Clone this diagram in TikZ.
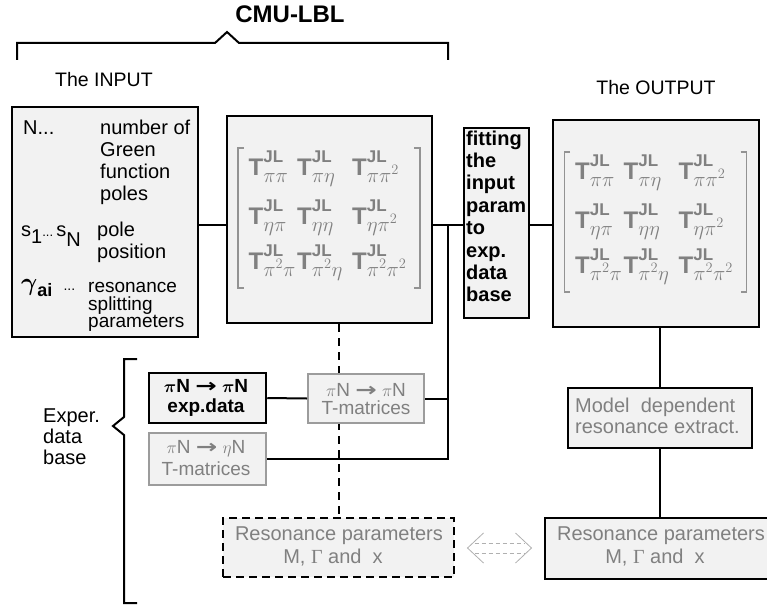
\documentclass[tikz,border=0pt]{standalone}
\usepackage{fontspec}
\usetikzlibrary{calc}
\setmainfont{Liberation Sans}
\newfontfamily\dejavu{DejaVu Sans}
\newfontfamily\grserif{Liberation Serif}
\definecolor{boxfill}{HTML}{F2F2F2}
\definecolor{txtgray}{HTML}{808080}
\definecolor{bordergray}{HTML}{9C9C9C}
\definecolor{arrgray}{HTML}{B0B0B0}
\newcommand{\Tent}[1]{T\makebox[0pt][l]{\raisebox{12.5pt}{\fontsize{17}{17}\selectfont JL}}\raisebox{-7pt}{\fontsize{20}{20}\selectfont\mdseries$#1$}}
\newcommand{\myarrow}{\scalebox{1.35}[1]{\dejavu\bfseries →}}
\tikzset{
  box/.style={draw=black, line width=2pt, fill=boxfill, inner sep=0pt},
  gbox/.style={draw=bordergray, line width=2pt, fill=boxfill, inner sep=0pt},
  dbox/.style={draw=black, line width=2pt, dash pattern=on 8pt off 5pt, fill=boxfill, inner sep=0pt},
  conn/.style={draw=black, line width=2pt},
  dconn/.style={draw=black, line width=2pt, dash pattern=on 8pt off 6pt},
  brk/.style={draw=txtgray!85, line width=1.6pt},
  ment/.style={inner sep=0pt, anchor=base west, text=txtgray, font=\fontsize{24}{26}\selectfont\bfseries},
  intxt/.style={inner sep=0pt, anchor=base west, font=\fontsize{20}{24}\selectfont},
  fittxt/.style={inner sep=0pt, anchor=base west, font=\fontsize{20}{24}\selectfont\bfseries},
  gtxt/.style={inner sep=0pt, anchor=base, text=txtgray, font=\fontsize{20}{24}\selectfont},
  gtxtl/.style={inner sep=0pt, anchor=base west, text=txtgray, font=\fontsize{20}{24}\selectfont},
  gstxt/.style={inner sep=0pt, anchor=base, text=txtgray, font=\fontsize{19}{23}\selectfont},
  btxt/.style={inner sep=0pt, anchor=base, font=\fontsize{19}{23}\selectfont\bfseries\boldmath},
  dblarr/.style={draw=arrgray, line width=0.8pt},
}
\newcommand{\Tmat}[1]{%
  \begin{scope}[shift={(#1.center)}]
    \draw[brk] (-86,-71.5) -- (-91.5,-71.5) -- (-91.5,68.5) -- (-86,68.5);
    \draw[brk] (84.5,-71.5) -- (90.5,-71.5) -- (90.5,68.5) -- (84.5,68.5);
    \node[ment] (#1-11) at (-81,-44.5) {\Tent{\pi\pi}};
    \node[ment] (#1-12) at (-32.5,-44.5) {\Tent{\pi\eta}};
    \node[ment] (#1-13) at (22.5,-44.5) {\Tent{\pi\pi^2}};
    \node[ment] (#1-21) at (-81,4.5) {\Tent{\eta\pi}};
    \node[ment] (#1-22) at (-32.5,4.5) {\Tent{\eta\eta}};
    \node[ment] (#1-23) at (22.5,4.5) {\Tent{\eta\pi^2}};
    \node[ment] (#1-31) at (-81,49.5) {\Tent{\pi^2\pi}};
    \node[ment] (#1-32) at (-32.5,49.5) {\Tent{\pi^2\eta}};
    \node[ment] (#1-33) at (22.5,49.5) {\Tent{\pi^2\pi^2}};
  \end{scope}}
\begin{document}
\begin{tikzpicture}[x=1pt,y=-1pt]
\useasboundingbox (0,0) rectangle (767,607);
\coordinate (row) at (0,225);
% CMU-LBL brace
\node[inner sep=0pt, anchor=base, font=\fontsize{24}{28}\selectfont\bfseries] (cmu) at (290,23) {CMU-LBL};
\draw[conn] (17,60) -- (17,43) -- (215,43) -- (227,32) -- (239,43) -- (448,43) -- (448,60);
\node[intxt, font=\fontsize{19.5}{24}\selectfont] (tin) at (55,87) {The INPUT};
\node[inner sep=0pt, anchor=base, font=\fontsize{19.5}{24}\selectfont] (tout) at (656,95) {The OUTPUT};
% boxes
\node[box, minimum width=186pt, minimum height=230pt] (inbox) at (105,222) {};
\node[box, minimum width=205pt, minimum height=207pt] (mat1) at (329.5,219.5) {};
\node[box, minimum width=65pt, minimum height=190pt] (fit) at (496.5,223) {};
\node[box, minimum width=206pt, minimum height=207pt] (mat2) at (656,223.5) {};
\node[box, minimum width=184pt, minimum height=60pt] (model) at (660,418) {};
\node[box, minimum width=231pt, minimum height=61pt] (resR) at (660.5,548.5) {};
\node[dbox, minimum width=231pt, minimum height=59pt] (resD) at (338.5,547.5) {};
\node[box, line width=2.5pt, minimum width=117pt, minimum height=50pt] (exp) at (207.5,398) {};
\node[gbox, minimum width=117pt, minimum height=52pt] (tpe) at (207.5,459) {};
% dashed line behind the T-matrices box
\draw[dconn] (resD.north |- mat1.south) -- (resD.north);
\node[gbox, minimum width=116pt, minimum height=49pt] (tpp) at (366,398.5) {};
% connectors
\coordinate (J) at (448,225);
\draw[conn] (inbox.east |- row) -- (mat1.west |- row);
\draw[conn] (mat1.east |- row) -- (fit.west |- row);
\draw[conn] (fit.east |- row) -- (mat2.west |- row);
\draw[conn] (J) -- (J |- tpe.east) -- (tpe.east);
\draw[conn] (tpp.east) -- (tpp.east -| J);
\draw[conn] (exp.east) -- (tpp.west);
\draw[conn] (model.north |- mat2.south) -- (model.north);
\draw[conn] (model.south) -- (model.south |- resR.north);
% Exper. data base bracket
\draw[conn] (137,359) -- (124,359) -- (124,417) -- (113,426) -- (124,435) -- (124,603) -- (137,603);
\node[intxt] (ex1) at (43,422) {Exper.};
\node[intxt] (ex2) at (43,443) {data};
\node[intxt] (ex3) at (43,464) {base};
% input box text
\node[intxt] (in1) at (23,134) {N...};
\node[intxt] (in2) at (100,134) {number of};
\node[intxt] (in3) at (100,156) {Green};
\node[intxt] (in4) at (100,178) {function};
\node[intxt] (in5) at (100,200) {poles};
\node[intxt] (in6) at (21,236) {s\raisebox{-7pt}{1}{\fontsize{13}{14}\selectfont...}\,s\raisebox{-10pt}{N}};
\node[intxt] (in7) at (97,236) {pole};
\node[intxt] (in8) at (97,258) {position};
\node[intxt] (in9) at (21,290) {{\fontsize{25}{26}\selectfont\boldmath$\gamma$}\raisebox{-6pt}{\fontsize{18}{20}\selectfont\bfseries ai}\ \ {\fontsize{14}{14}\selectfont...}};
\node[intxt, font=\fontsize{19}{22}\selectfont] (in10) at (88,292) {resonance};
\node[intxt, font=\fontsize{19}{22}\selectfont] (in11) at (88,310) {splitting};
\node[intxt, font=\fontsize{19}{22}\selectfont] (in12) at (88,327) {parameters};
% matrices
\Tmat{mat1}
\Tmat{mat2}
% fitting text
\foreach \t [count=\i from 0] in {fitting,the,input,param,to,exp.,data,base}
  \node[fittxt] (fit-\i) at (466,{145+22.4*\i}) {\t};
% small boxes text
\node[btxt] (exp1) at (206,392) {$\pi$N \myarrow\ $\pi$N};
\node[btxt] (exp2) at (206,412) {exp.data};
\node[gstxt] (tpp1) at (366,396) {$\pi$N \myarrow\ $\pi$N};
\node[gstxt] (tpp2) at (366,414) {T-matrices};
\node[gstxt] (tpe1) at (206,453) {$\pi$N \myarrow\ $\eta$N};
\node[gstxt] (tpe2) at (206,475) {T-matrices};
% model text
\node[gtxtl] (mo1) at (575,412) {Model\ \ dependent};
\node[gtxtl] (mo2) at (575,433) {resonance extract.};
% resonance texts
\node[gtxt] (rd1) at (339,540) {Resonance parameters};
\node[gtxt] (rd2) at (333,563) {M, {\grserif Γ} and\ \ x};
\node[gtxt] (rr1) at (661,540) {Resonance parameters};
\node[gtxt] (rr2) at (655,563) {M, {\grserif Γ} and\ \ x};
% hollow dashed double arrow
\coordinate (da) at ($(resD.east)!0.5!(resR.west)$);
\draw[dblarr] ($(da)+(-16,-15)$) -- ($(da)+(-32,0)$) -- ($(da)+(-16,15)$);
\draw[dblarr] ($(da)+(16,-15)$) -- ($(da)+(32,0)$) -- ($(da)+(16,15)$);
\draw[dblarr, dash pattern=on 4pt off 3pt] ($(da)+(-25,-5)$) -- ($(da)+(25,-5)$);
\draw[dblarr, dash pattern=on 4pt off 3pt] ($(da)+(-25,5)$) -- ($(da)+(25,5)$);
\end{tikzpicture}
\end{document}
